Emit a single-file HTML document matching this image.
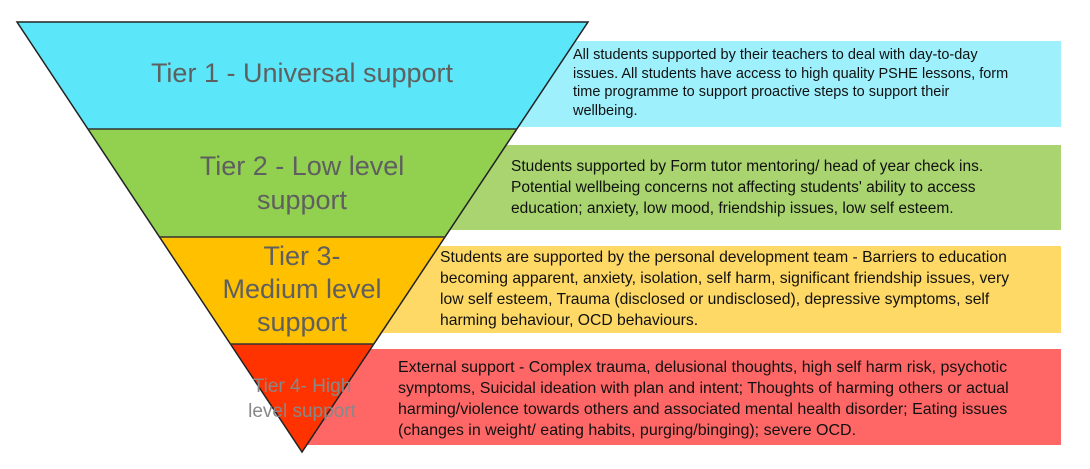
<!DOCTYPE html>
<html><head><meta charset="utf-8"><style>
body{margin:0;width:1090px;height:469px;background:#fff;position:relative;overflow:hidden;font-family:"Liberation Sans",sans-serif}
.l{position:absolute;white-space:nowrap;color:#111;}
.t{position:absolute;white-space:nowrap;color:#5f5f5f;text-align:center;transform:translateX(-50%)}
</style></head><body>
<svg width="1090" height="469" style="position:absolute;left:0;top:0">
<rect x="300" y="41" width="761" height="86" fill="#9ef0fc"/>
<rect x="300" y="145" width="761" height="85" fill="#a9d46f"/>
<rect x="300" y="246" width="761" height="87" fill="#ffd966"/>
<rect x="300" y="349" width="761" height="96" fill="#ff6666"/>
<polygon points="17,22 588,22 517,129 88,129" fill="#5be7f9"/>
<polygon points="88,129 517,129 445,237 160,237" fill="#92d050"/>
<polygon points="160,237 445,237 374,344 230,344" fill="#ffc000"/>
<polygon points="230,344 374,344 302,452" fill="#ff3300"/>
<polygon points="17,22 588,22 302,452" fill="none" stroke="#222" stroke-width="1.5"/>
<line x1="88" y1="129" x2="517" y2="129" stroke="#333" stroke-width="1.5"/>
<line x1="160" y1="237" x2="445" y2="237" stroke="#333" stroke-width="1.5"/>
<line x1="230" y1="344" x2="374" y2="344" stroke="#333" stroke-width="1.5"/>
</svg>
<div class="t" style="left:302px;top:58px;font-size:27px">Tier 1 - Universal support</div>
<div class="t" style="left:302px;top:149px;font-size:27px;line-height:34px">Tier 2 - Low level<br>support</div>
<div class="t" style="left:302px;top:240px;font-size:27px;line-height:33px">Tier 3-<br>Medium level<br>support</div>
<div class="t" style="left:302px;top:374px;font-size:19px;line-height:25px;color:#888">Tier 4- High<br>level support</div>
<div class="l" style="left:573px;top:46px;font-size:14.5px;line-height:18.5px">All students supported by their teachers to deal with day-to-day<br>issues. All students have access to high quality PSHE lessons, form<br>time programme to support proactive steps to support their<br>wellbeing.</div>
<div class="l" style="left:511px;top:156px;font-size:15.5px;line-height:21px">Students supported by Form tutor mentoring/ head of year check ins.<br>Potential wellbeing concerns not affecting students' ability to access<br>education; anxiety, low mood, friendship issues, low self esteem.</div>
<div class="l" style="left:440px;top:247px;font-size:15.7px;line-height:21px">Students are supported by the personal development team - Barriers to education<br>becoming apparent, anxiety, isolation, self harm, significant friendship issues, very<br>low self esteem, Trauma (disclosed or undisclosed), depressive symptoms, self<br>harming behaviour, OCD behaviours.</div>
<div class="l" style="left:398px;top:357px;font-size:16px;line-height:21px">External support - Complex trauma, delusional thoughts, high self harm risk, psychotic<br>symptoms, Suicidal ideation with plan and intent; Thoughts of harming others or actual<br>harming/violence towards others and associated mental health disorder; Eating issues<br>(changes in weight/ eating habits, purging/binging); severe OCD.</div>
</body></html>
